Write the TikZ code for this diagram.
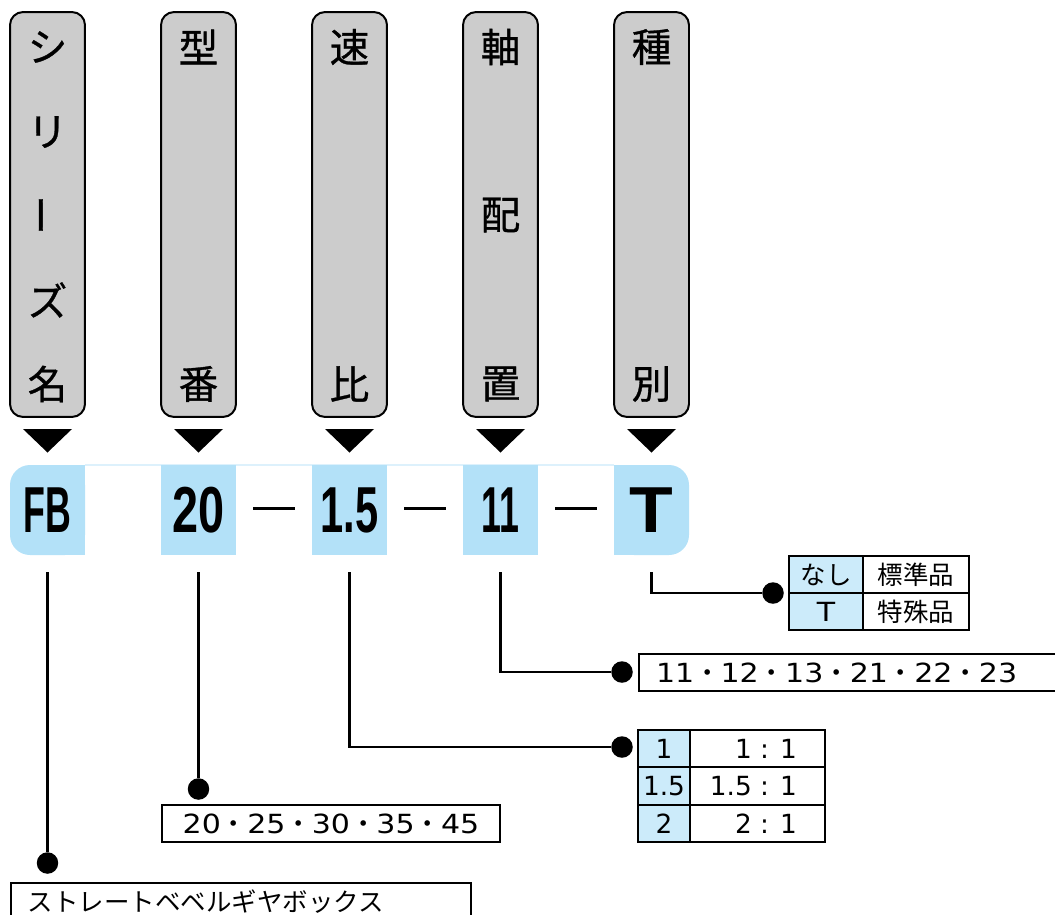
\documentclass[tikz,border=0pt]{standalone}
\usepackage{graphicx}
\usepackage{fontspec}
\setmainfont{Noto Sans CJK JP}
\newfontfamily\cellfont{Liberation Sans}
\newfontfamily\tabfont{Noto Sans CJK JP}[FakeBold=0.8]
\newfontfamily\numfont{DejaVu Sans}[FakeStretch=1.14]
\newfontfamily\ratiofont{DejaVu Sans}
\newcommand\nd{{\rmfamily ・}}
\usepackage{tikz}

\definecolor{tabgray}{HTML}{CCCCCC}
\definecolor{cellblue}{HTML}{B3E1F8}
\definecolor{keyblue}{HTML}{CCEBFA}
\definecolor{bandline}{HTML}{DDF1FC}

\tikzset{
  tab/.style={draw, fill=tabgray, line width=0.04cm, rounded corners=0.26cm,
    minimum width=1.5cm, minimum height=8.1cm},
  tabchar/.style={inner sep=0, font=\tabfont\fontsize{22.5}{24}\selectfont},
  cell/.style={fill=cellblue, inner sep=0, minimum width=1.5cm, minimum height=1.8cm,
    font=\cellfont\bfseries\fontsize{37}{40}\selectfont},
  dot/.style={circle, fill=black, inner sep=0, minimum size=0.43cm},
  box/.style={draw, line width=0.04cm, minimum height=0.74cm, inner sep=0,
    font=\fontsize{14.5}{16}\selectfont},
  num/.style={font=\numfont\fontsize{15}{16}\selectfont},
  ratio/.style={font=\ratiofont\fontsize{15}{16}\selectfont},
  conn/.style={line width=0.045cm}
}

\begin{document}
\begin{tikzpicture}[x=0.02cm, y=-0.02cm]
\useasboundingbox (0,0) rectangle (1055,914);
% tabs and their pointers
\foreach \x/\n in {47.5/tSer, 198.5/tKat, 349.5/tSpd, 500.5/tJik, 651.5/tKin} {
  \node[tab] (\n) at (\x,214.5) {};
  \fill (\x-24.5,429) -- (\x+24.5,429) -- (\x,452.5) -- cycle;
}
\foreach \x/\y/\c [count=\i] in {47.5/47/シ, 47.5/132/リ, 47.5/300/ズ, 47.5/384/名,
    198.5/47/型, 198.5/384/番, 349.5/47/速, 349.5/384/比,
    500.5/47/軸, 500.5/215/配, 500.5/384/置, 651.5/47/種, 651.5/384/別}
  \node[tabchar] (lbl\i) at (\x,\y) {\c};
\node[tabchar, rotate=90] (lblbar) at (47.5,215) {ー};
% code band
\fill[cellblue, rounded corners=0.4cm] (10,465) rectangle (85,555);
\fill[cellblue] (50,465) rectangle (85,555);
\fill[cellblue, rounded corners=0.4cm] (614,465) rectangle (689,555);
\fill[cellblue] (614,465) rectangle (650,555);
\draw[bandline, line width=0.03cm] (85,465) -- (614,465);
\node[cell, fill=none] (cFB) at (47.5,510) {\scalebox{0.55}[1]{FB}};
\node[cell, fill=none] (cT) at (651.5,510) {\scalebox{1.1}[1]{T}};
\foreach \x/\n/\t/\s in {198.5/c20/20/0.72, 349.5/c15/1.5/0.64, 500.5/c11/11/0.55}
  \node[cell] (\n) at (\x,510) {\scalebox{\s}[1]{\t}};
\foreach \a in {253,404,555}
  \draw[line width=0.06cm] (\a,508) -- (\a+42,508);
% dots
\node[dot] (dFB) at (47.5,863) {};
\node[dot] (d20) at (198.5,789) {};
\node[dot] (d15) at (622,747) {};
\node[dot] (d11) at (622,672) {};
\node[dot] (dT) at (773,593) {};
% connectors
\draw[conn] ([yshift=-0.34cm]cFB.south) -- (dFB);
\draw[conn] ([yshift=-0.34cm]c20.south) -- (d20);
\draw[conn] ([yshift=-0.34cm]c15.south) |- (d15);
\draw[conn] ([yshift=-0.34cm]c11.south) |- (d11);
\draw[conn] ([yshift=-0.34cm]cT.south) |- (dT);
% option boxes
\node[box, anchor=north west, text width=8.52cm, inner xsep=0.34cm, align=left]
  (bSer) at (10,882) {ストレートベベルギヤボックス};
\node[box, num, minimum width=6.76cm] (b20) at (331,823.5) {20\nd 25\nd 30\nd 35\nd 45};
\node[box, num, anchor=west, text width=7.96cm, inner xsep=0.34cm, align=left]
  (b11) at (638,672.5) {11\nd 12\nd 13\nd 21\nd 22\nd 23};
\node[box, fill=keyblue, minimum width=1.48cm] (ka1) at (826,574.5) {なし};
\node[box, minimum width=2.12cm] (kb1) at (916,574.5) {標準品};
\node[box, num, fill=keyblue, minimum width=1.48cm] (ka2) at (826,611.5) {T};
\node[box, minimum width=2.12cm] (kb2) at (916,611.5) {特殊品};
\foreach \y/\h/\a/\b [count=\i] in {748.5/0.74/1/{1 : 1}, 786/0.76/1.5/{1.5 : 1}, 823.5/0.74/2/{2 : 1}} {
  \node[box, ratio, fill=keyblue, minimum width=1.04cm, minimum height=\h cm] (ra\i) at (664,\y) {\a};
  \node[box, ratio, inner xsep=0.56cm, minimum height=\h cm]
    (rb\i) at (757.5,\y) {\makebox[1.58cm][r]{\b}};
}
\end{tikzpicture}
\end{document}
